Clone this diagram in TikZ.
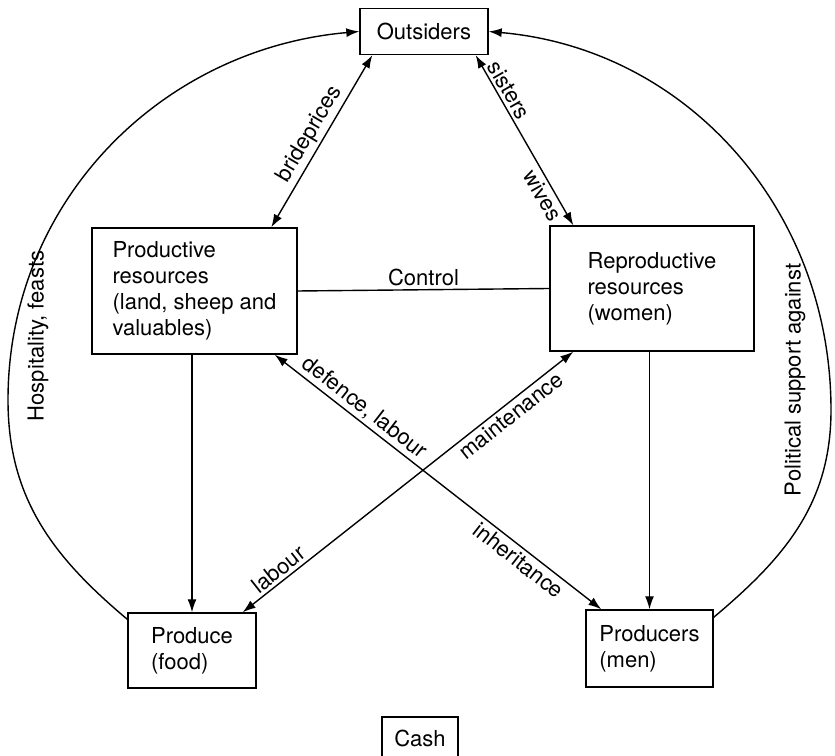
\documentclass[tikz,border=0pt]{standalone}
\usepackage{fontspec}
\setmainfont{TeX Gyre Heros}
\usetikzlibrary{arrows.meta}
\usetikzlibrary{calc}

\begin{document}
\begin{tikzpicture}[x=1pt,y=1pt,
    >={Latex[length=13pt,width=9pt]},
    line width=1.4pt,
    every node/.style={font=\fontsize{22}{26}\selectfont},
    box/.style={draw, align=left, inner sep=0pt},
    tag/.style={sloped, inner sep=3pt}]
  \useasboundingbox (0,0) rectangle (835,755);

  % Boxes
  \node[box, minimum width=128pt, minimum height=46pt] (outs) at (424,723.5) {Outsiders};
  \node[box, minimum width=205pt, minimum height=126pt] (prod) at (194.5,464)
    {Productive\\resources\\(land, sheep and\\valuables)};
  \node[box, minimum width=204pt, minimum height=125pt] (repro) at (652,466.5)
    {Reproductive\\resources\\(women)};
  \node[box, minimum width=128pt, minimum height=75pt] (food) at (192,104.5) {Produce\\(food)};
  \node[box, minimum width=127pt, minimum height=77pt] (men) at (649.5,106.5) {Producers\\(men)};
  \node[box, minimum width=76pt, minimum height=42pt] (cash) at (420,17) {Cash};

  % Exchanges with outsiders
  \draw[<->] ($(prod.north west)+(180,0)$) -- node[tag, above] {brideprices} ($(outs.south west)+(13,0)$);
  \draw[<->] ($(outs.south east)+(-13,0)$) -- node[tag, above, pos=0.24] {sisters}
    node[tag, below, pos=0.79] {wives} ($(repro.north west)+(24,0)$);

  % Control
  \draw (prod.east) -- node[above] {Control} (repro.west);

  % Downward flows
  \draw[->] (prod.south -| food.north) -- (food.north);
  \draw[->] (repro.south -| men.north) -- (men.north);

  % Crossing flows
  \draw[<->] ($(food.north east)+(-14,0)$) -- node[tag, above, pos=0.13] {labour}
    node[tag, below, pos=0.79] {maintenance} ($(repro.south west)+(24,0)$);
  \draw[<->] ($(prod.south east)+(-23,0)$) -- node[tag, above, pos=0.25] {defence, labour}
    node[tag, below, pos=0.77] {inheritance} ($(men.north west)+(16,0)$);

  % Outer arcs
  \coordinate (lmost) at (8,355);
  \coordinate (rmost) at (831,345);
  \draw[->] ($(food.north west)+(0,-7)$) to[out=140,in=-90] (lmost) to[out=90,in=185] (outs.west);
  \draw[->] ($(men.north east)+(0,-8)$) to[out=40,in=-90] (rmost) to[out=90,in=-5] (outs.east);
  \node[rotate=90] (hosp) at (38,419) {Hospitality, feasts};
  \node[rotate=90] (polit) at (795,375) {Political support against};
\end{tikzpicture}
\end{document}
